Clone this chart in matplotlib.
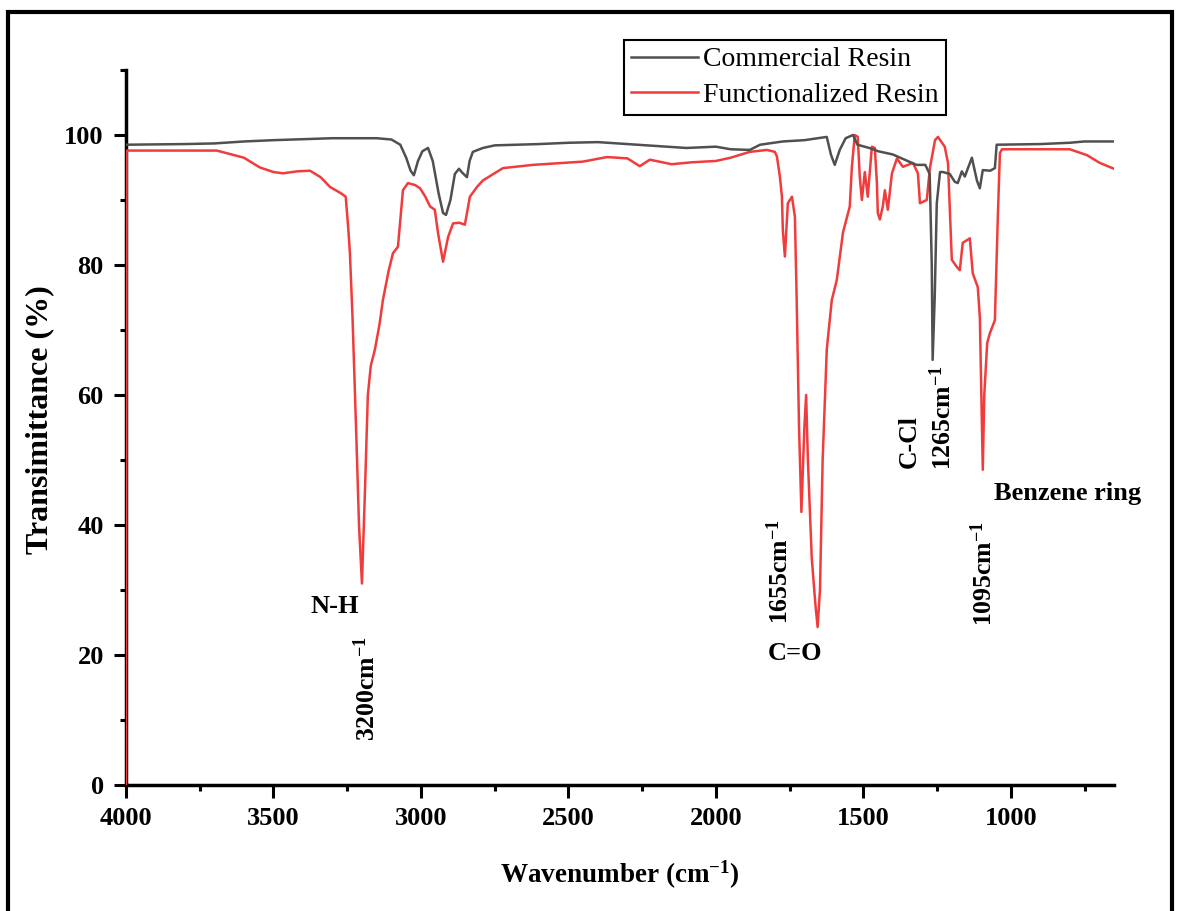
import numpy as np
import matplotlib
matplotlib.use('Agg')
import matplotlib.pyplot as plt
from matplotlib.patches import Rectangle

# fonts
plt.rcParams['font.family'] = ['Liberation Serif', 'DejaVu Serif']
plt.rcParams['mathtext.fontset'] = 'custom'
plt.rcParams['mathtext.rm'] = 'Liberation Serif:bold'
plt.rcParams['mathtext.bf'] = 'Liberation Serif:bold'
plt.rcParams['mathtext.default'] = 'bf'

# FTIR spectra, wavenumber (cm-1) vs transmittance (%)
commercial_wn = [4000, 3800, 3700, 3600, 3500, 3300, 3150, 3100, 3070, 3050, 3035, 3024,
                 3010, 2995, 2976, 2960, 2940, 2925, 2915, 2900, 2885, 2871, 2860, 2844,
                 2835, 2824, 2790, 2750, 2600, 2500, 2400, 2300, 2200, 2100, 2000, 1950,
                 1885, 1850, 1773, 1700, 1624, 1610, 1597, 1580, 1560, 1535, 1520, 1480,
                 1450, 1400, 1350, 1320, 1290, 1275, 1268, 1265, 1258, 1251, 1240, 1230,
                 1207, 1190, 1180, 1166, 1156, 1132, 1115, 1105, 1095, 1070, 1054, 1048,
                 900, 800, 750, 650]
commercial_t = [98.5, 98.6, 98.7, 99.0, 99.2, 99.5, 99.5, 99.3, 98.5, 96.5, 94.5, 93.8,
                96.0, 97.5, 98.0, 96.0, 91.0, 88.0, 87.7, 90.0, 94.0, 94.8, 94.2, 93.5,
                96.0, 97.4, 98.0, 98.4, 98.6, 98.8, 98.9, 98.6, 98.3, 98.0, 98.2, 97.8,
                97.7, 98.5, 99.0, 99.2, 99.7, 97.0, 95.4, 97.7, 99.5, 100.0, 98.5, 98.0,
                97.5, 97.0, 96.0, 95.4, 95.4, 94.0, 80.0, 65.4, 75.0, 89.5, 94.3, 94.3,
                94.0, 92.8, 92.6, 94.4, 93.6, 96.5, 93.0, 91.8, 94.6, 94.5, 94.9, 98.5,
                98.6, 98.8, 99.0, 99.0]

functional_wn = [4000, 3998, 3850, 3692, 3600, 3546, 3500, 3468, 3420, 3376, 3340, 3308,
                 3270, 3255, 3247, 3241, 3232, 3220, 3210, 3200, 3190, 3180, 3170, 3156,
                 3140, 3129, 3110, 3095, 3078, 3068, 3061, 3044, 3020, 3003, 2985, 2969,
                 2953, 2942, 2925, 2908, 2891, 2870, 2851, 2834, 2810, 2790, 2722, 2620,
                 2451, 2369, 2300, 2258, 2224, 2150, 2080, 2000, 1950, 1900, 1885, 1827,
                 1800, 1793, 1783, 1776, 1773, 1766, 1756, 1742, 1732, 1726, 1718, 1710,
                 1700, 1694, 1688, 1675, 1663, 1655, 1647, 1638, 1624, 1607, 1590, 1569,
                 1552, 1546, 1539, 1529, 1519, 1512, 1505, 1495, 1485, 1471, 1461, 1454,
                 1451, 1444, 1434, 1427, 1417, 1403, 1386, 1366, 1332, 1315, 1308, 1285,
                 1274, 1257, 1247, 1224, 1213, 1200, 1183, 1173, 1163, 1139, 1129, 1112,
                 1105, 1099, 1095, 1090, 1080, 1071, 1054, 1044, 1037, 1030, 900, 800,
                 742, 698, 650]
functional_t = [0.0, 97.6, 97.6, 97.6, 96.5, 95.0, 94.3, 94.1, 94.4, 94.5, 93.5, 92.0,
                91.0, 90.5, 86.0, 82.0, 72.0, 55.0, 40.0, 31.0, 45.0, 60.0, 64.5, 67.0,
                71.0, 74.6, 79.0, 81.8, 82.8, 88.0, 91.5, 92.6, 92.3, 91.8, 90.5, 89.0,
                88.5, 84.9, 80.5, 84.3, 86.4, 86.5, 86.2, 90.5, 92.0, 93.0, 94.9, 95.4,
                95.9, 96.6, 96.4, 95.2, 96.2, 95.5, 95.8, 96.0, 96.5, 97.2, 97.4, 97.7,
                97.4, 96.7, 93.6, 90.5, 85.4, 81.3, 89.5, 90.5, 87.4, 74.6, 55.0, 42.0,
                55.0, 60.0, 50.0, 35.0, 28.0, 24.3, 30.0, 50.0, 67.0, 74.6, 77.7, 85.0,
                88.0, 89.0, 95.0, 100.0, 99.7, 93.5, 90.0, 94.3, 90.5, 98.2, 98.0, 92.6,
                88.0, 87.0, 89.0, 91.5, 88.5, 94.1, 96.4, 95.1, 95.7, 94.1, 89.5, 90.0,
                95.0, 99.2, 99.7, 98.2, 95.7, 80.8, 79.7, 79.2, 83.4, 84.1, 78.7, 76.6,
                72.0, 58.0, 48.5, 60.0, 68.0, 69.5, 71.5, 87.4, 97.2, 97.8, 97.8, 97.8,
                96.9, 95.7, 94.8]

x_major = [4000, 3500, 3000, 2500, 2000, 1500, 1000]
x_minor = [3750, 3250, 2750, 2250, 1750, 1250, 750]
y_major = [0, 20, 40, 60, 80, 100]
y_minor = [10, 30, 50, 70, 90, 110]

fig = plt.figure(figsize=(11.82, 9.11), dpi=100)
ax = fig.add_axes([0.1066, 0.1383, 0.8359, 0.7849])

# red under grey, both above the spines
l_func, = ax.plot(functional_wn, functional_t, color='#f03c3c', lw=1.8, zorder=3)
l_comm, = ax.plot(commercial_wn, commercial_t, color='#505050', lw=1.8, zorder=3.1)

ax.set_xlim(4000, 650)
ax.set_ylim(0, 110)
ax.set_xticks(x_major)
ax.set_xticks(x_minor, minor=True)
ax.set_yticks(y_major)
ax.set_yticks(y_minor, minor=True)

for s in ['top', 'right']:
    ax.spines[s].set_visible(False)
for s in ['left', 'bottom']:
    ax.spines[s].set_linewidth(2.5)

ax.tick_params(which='major', direction='out', length=9, width=2.2, labelsize=19, pad=7)
ax.tick_params(which='minor', direction='out', length=4.5, width=2.2)
for lab in ax.get_xticklabels() + ax.get_yticklabels():
    lab.set_fontweight('bold')

fig.text(40 / 1182, 1 - 420 / 911, 'Transimittance (%)', rotation=90, ha='center', va='center',
         fontsize=23, fontweight='bold')
fig.text(620 / 1182, 1 - 875 / 911, 'Wavenumber (cm$^{-1}$)', ha='center', va='center',
         fontsize=19.5, fontweight='bold')

# peak annotations
ann = dict(fontsize=19, fontweight='bold', ha='center', va='center')
rot = dict(fontsize=18.5, fontweight='bold', ha='center', va='center', rotation=90)
ax.text(3291, 27.4, 'N-H', **ann)
ax.text(3183, 14.9, '3200cm$^{-1}$', **rot)
ax.text(1783, 32.9, '1655cm$^{-1}$', **rot)
ax.text(1732, 20.2, 'C=O', **ann)
ax.text(1346, 52.8, 'C-Cl', **rot)
ax.text(1230, 56.5, '1265cm$^{-1}$', **rot)
ax.text(807, 44.8, 'Benzene ring', **ann)
ax.text(1091, 32.6, '1095cm$^{-1}$', **rot)

leg = ax.legend([l_comm, l_func], ['Commercial Resin', 'Functionalized Resin'],
                loc='upper left', bbox_to_anchor=(624 / 1182, 1 - 40 / 911),
                bbox_transform=fig.transFigure, fontsize=20, handlelength=2.4,
                fancybox=False, framealpha=1, edgecolor='black', borderpad=0.25,
                labelspacing=0.35, handletextpad=0.2, borderaxespad=0)
leg.get_frame().set_linewidth(1.5)

# frame round the whole figure
fig.patches.append(Rectangle((8 / 1182, -0.05), (1172 - 8) / 1182, 1 - 12 / 911 + 0.05,
                             transform=fig.transFigure, fill=False, lw=3, ec='black',
                             clip_on=False))

fig.savefig('out.png', dpi=100)
